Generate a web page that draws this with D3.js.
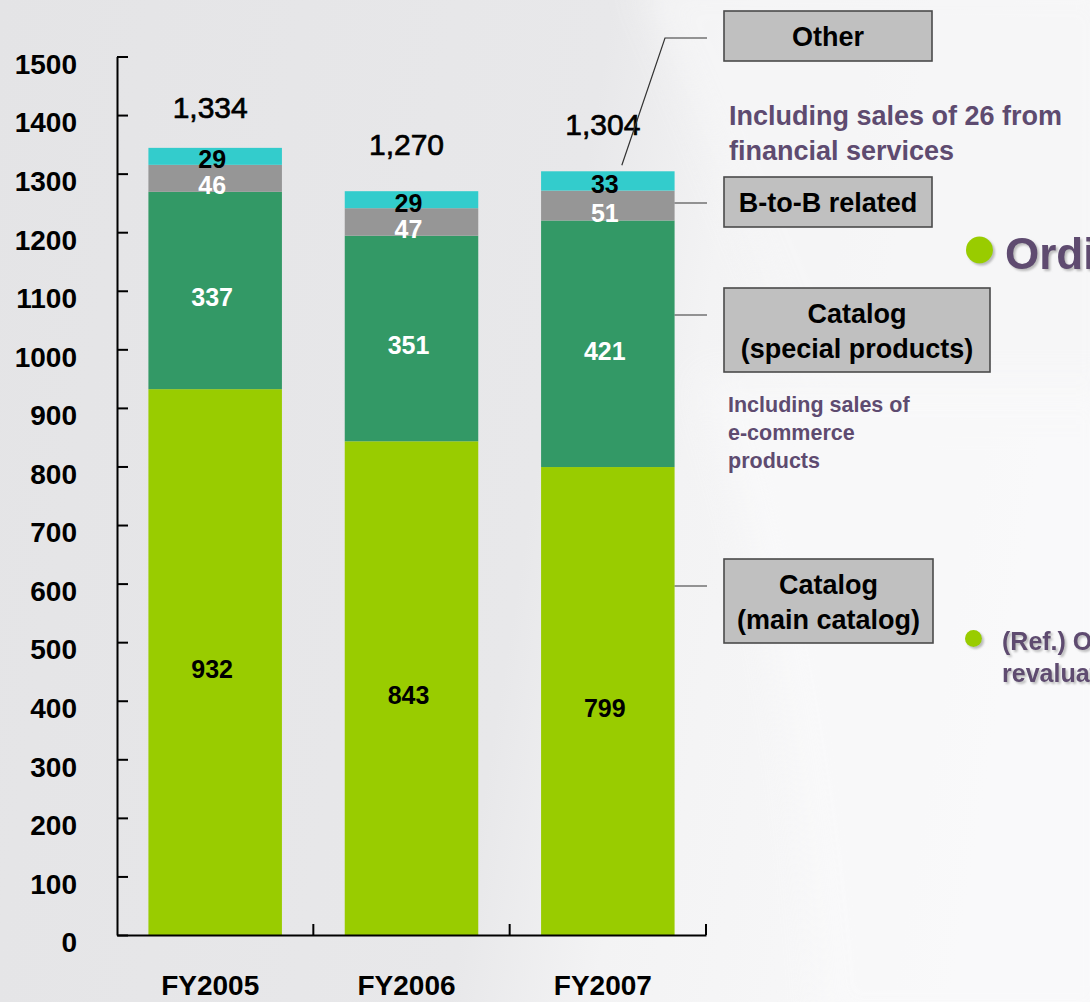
<!DOCTYPE html>
<html>
<head>
<meta charset="utf-8">
<script src="https://cdn.jsdelivr.net/npm/d3@7"></script>
<style>
  html, body { margin: 0; padding: 0; overflow: hidden; background: #f2f2f3; }
  svg { display: block; }
  text { font-family: "Liberation Sans", Arial, sans-serif; }
</style>
</head>
<body>
<svg id="chart" width="1090" height="1002"></svg>
<script>
// ---- data (net sales by business, billions of yen) ----
const years = ["FY2005", "FY2006", "FY2007"];
const mainCatalog = [932, 843, 799];
const specialProducts = [337, 351, 421];
const b2bRelated = [46, 47, 51];
const other = [29, 29, 33];
const totals = [1334, 1270, 1304];
const yTickValues = [0, 100, 200, 300, 400, 500, 600, 700, 800, 900, 1000, 1100, 1200, 1300, 1400, 1500];
const seriesKeys = ["main", "special", "b2b", "other"];
const seriesLabels = ["Catalog\n(main catalog)", "Catalog\n(special products)", "B-to-B related", "Other"];

const seriesColor = { main: "#99CC00", special: "#339966", b2b: "#969696", other: "#33CCCC" };
const valueColor = { main: "#000", special: "#fff", b2b: "#fff", other: "#000" };

const rows = years.map((yr, i) => ({
  year: yr, main: mainCatalog[i], special: specialProducts[i], b2b: b2bRelated[i], other: other[i], total: totals[i]
}));

const svg = d3.select("#chart");
const W = 1090, H = 1002;

// ---- background ----
const defs = svg.append("defs");
const bg = defs.append("linearGradient").attr("id", "bg").attr("x1", "0").attr("y1", "0").attr("x2", "1").attr("y2", "0.15");
bg.append("stop").attr("offset", "0").attr("stop-color", "#e4e4e6");
bg.append("stop").attr("offset", "0.55").attr("stop-color", "#e8e8ea");
bg.append("stop").attr("offset", "0.68").attr("stop-color", "#f3f3f4");
bg.append("stop").attr("offset", "1").attr("stop-color", "#f9f9fa");
svg.append("rect").attr("width", W).attr("height", H).attr("fill", "url(#bg)");
const blur = defs.append("filter").attr("id", "soft").attr("x", "-20%").attr("y", "-20%").attr("width", "140%").attr("height", "140%");
blur.append("feGaussianBlur").attr("stdDeviation", 18);
svg.append("path")
  .attr("d", "M640,-20 C700,120 760,260 820,420 L1120,420 L1120,-20 Z")
  .attr("fill", "#f6f6f7").attr("opacity", 0.8).attr("filter", "url(#soft)");
svg.append("path")
  .attr("d", "M700,380 C760,560 800,760 820,1030 L1120,1030 L1120,380 Z")
  .attr("fill", "#f9f9fa").attr("opacity", 0.8).attr("filter", "url(#soft)");

const shadow = defs.append("filter").attr("id", "shadow").attr("x", "-20%").attr("y", "-20%").attr("width", "150%").attr("height", "150%");
shadow.append("feDropShadow").attr("dx", 2).attr("dy", 2).attr("stdDeviation", 1.2)
  .attr("flood-color", "#888").attr("flood-opacity", 0.55);

// ---- scales ----
const x = d3.scaleBand().domain(years).range([117, 706]).paddingInner(0.32).paddingOuter(0.16);
const y = d3.scaleLinear().domain([0, 1500]).range([935, 56.5]);

// ---- stacked bars ----
const stack = d3.stack().keys(seriesKeys)(rows);
const g = svg.append("g");
stack.forEach(layer => {
  const key = layer.key;
  g.append("g").selectAll("rect").data(layer).join("rect")
    .attr("x", d => x(d.data.year))
    .attr("width", x.bandwidth())
    .attr("y", d => y(d[1]))
    .attr("height", d => y(d[0]) - y(d[1]))
    .attr("fill", seriesColor[key]);
});

// segment value labels
stack.forEach(layer => {
  const key = layer.key;
  g.append("g").selectAll("text").data(layer).join("text")
    .attr("x", d => x(d.data.year) + x.bandwidth() / 2 - 3)
    .attr("y", d => (y(d[0]) + y(d[1])) / 2 + (key === "other" ? 3 : 7))
    .attr("dy", "0.36em")
    .attr("text-anchor", "middle")
    .attr("font-size", 25).attr("font-weight", "bold")
    .attr("fill", valueColor[key])
    .text(d => d.data[key]);
});

// totals above bars
g.append("g").selectAll("text").data(rows).join("text")
  .attr("x", d => x(d.year) + x.bandwidth() / 2 - 5)
  .attr("y", d => y(d.total) - 36)
  .attr("text-anchor", "middle")
  .attr("font-size", 30)
  .attr("fill", "#000").attr("stroke", "#000").attr("stroke-width", 0.7)
  .text(d => d3.format(",")(d.total));

// ---- axes ----
const yAxis = svg.append("g").attr("transform", "translate(117,0)")
  .call(d3.axisLeft(y).tickValues(yTickValues).tickFormat(d3.format("d"))
    .tickSizeInner(-11).tickSizeOuter(0).tickPadding(40));
yAxis.select(".domain").attr("stroke", "#000").attr("stroke-width", 2);
yAxis.selectAll(".tick line").attr("stroke", "#000").attr("stroke-width", 2);
yAxis.selectAll(".tick text")
  .attr("font-size", 28).attr("font-weight", "bold").attr("fill", "#000")
  .attr("font-family", "'Liberation Sans', Arial, sans-serif")
  .attr("dy", "0.6em");

const xAxis = svg.append("g").attr("transform", "translate(0,935)")
  .call(d3.axisBottom(x).tickSize(0).tickPadding(40));
xAxis.select(".domain").attr("stroke", "#000").attr("stroke-width", 2);
xAxis.selectAll(".tick text")
  .attr("font-size", 28).attr("font-weight", "bold").attr("fill", "#000")
  .attr("font-family", "'Liberation Sans', Arial, sans-serif")
  .attr("dx", -5);
// category separator ticks (pointing up)
xAxis.append("g").selectAll("line").data(years).join("line")
  .attr("x1", d => x(d) + x.bandwidth() + x.step() * x.paddingInner() / 2)
  .attr("x2", d => x(d) + x.bandwidth() + x.step() * x.paddingInner() / 2)
  .attr("y1", 0).attr("y2", -11)
  .attr("stroke", "#000").attr("stroke-width", 2);

// ---- series callouts ----
const lastYear = years[years.length - 1];
const barRight = x(lastYear) + x.bandwidth();
const boxLeft = 724;
const callouts = [
  { key: "other",   top: 11,  h: 50, w: 208 },
  { key: "b2b",     top: 177, h: 50, w: 208 },
  { key: "special", top: 288, h: 84, w: 266 },
  { key: "main",    top: 559, h: 84, w: 209 }
];
const cg = svg.append("g");
callouts.forEach(c => {
  const label = seriesLabels[seriesKeys.indexOf(c.key)].split("\n");
  cg.append("rect")
    .attr("x", boxLeft).attr("y", c.top).attr("width", c.w).attr("height", c.h)
    .attr("fill", "#c0c0c0").attr("stroke", "#4a4a4a").attr("stroke-width", 1.6);
  const cy = c.top + c.h / 2;
  const t = cg.append("text").attr("text-anchor", "middle")
    .attr("font-size", 27).attr("font-weight", "bold").attr("fill", "#000");
  if (label.length === 1) {
    t.append("tspan").attr("x", boxLeft + c.w / 2).attr("y", cy + 10).text(label[0]);
  } else {
    t.append("tspan").attr("x", boxLeft + c.w / 2).attr("y", cy - 7).text(label[0]);
    t.append("tspan").attr("x", boxLeft + c.w / 2).attr("y", cy + 28).text(label[1]);
  }
  // connector
  if (c.key === "other") {
    const top = y(totals[totals.length - 1]);
    cg.append("polyline")
      .attr("points", [[x(lastYear) + x.bandwidth() / 2 + 14, top - 6], [665, 38], [707, 38]].map(p => p.join(",")).join(" "))
      .attr("fill", "none").attr("stroke", "#333").attr("stroke-width", 1.2);
  } else {
    const ly = c.key === "b2b" ? 203 : (c.key === "special" ? 315 : 586);
    cg.append("line").attr("x1", barRight).attr("x2", 707).attr("y1", ly).attr("y2", ly)
      .attr("stroke", "#333").attr("stroke-width", 1.2);
  }
});

// notes under callouts
const purple = "#5e4b70";
const note1 = cg.append("text").attr("font-size", 27).attr("font-weight", "bold").attr("fill", purple);
note1.append("tspan").attr("x", 729).attr("y", 125).text("Including sales of 26 from");
note1.append("tspan").attr("x", 729).attr("y", 160).text("financial services");

const note2 = cg.append("text").attr("font-size", 21.5).attr("font-weight", "bold").attr("fill", purple);
["Including sales of", "e-commerce", "products"].forEach((s, i) =>
  note2.append("tspan").attr("x", 728).attr("y", 412 + i * 28).text(s));

// ---- side headings ----
const side = svg.append("g");
side.append("circle").attr("cx", 979.5).attr("cy", 250).attr("r", 13.5)
  .attr("fill", "#99cc00").attr("filter", "url(#shadow)");
side.append("text").attr("x", 1005).attr("y", 269)
  .attr("font-size", 44).attr("font-weight", "bold").attr("fill", purple)
  .attr("filter", "url(#shadow)")
  .text("Ordinary income");

side.append("circle").attr("cx", 973.5).attr("cy", 638.5).attr("r", 8.5)
  .attr("fill", "#99cc00").attr("filter", "url(#shadow)");
const ref = side.append("text").attr("font-size", 25).attr("font-weight", "bold").attr("fill", purple)
  .attr("filter", "url(#shadow)");
ref.append("tspan").attr("x", 1002).attr("y", 650).text("(Ref.) Ordinary income before");
ref.append("tspan").attr("x", 1002).attr("y", 682).text("revaluation");
</script>
</body>
</html>
